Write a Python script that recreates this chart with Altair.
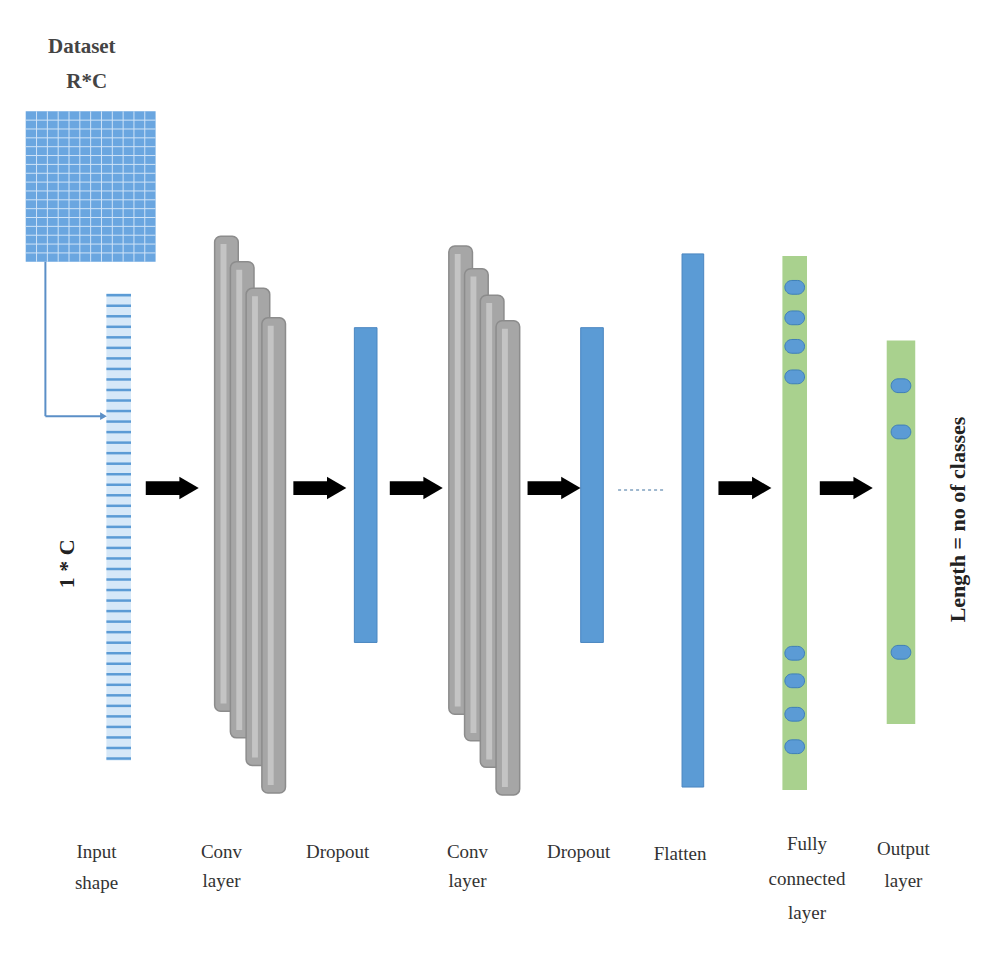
import altair as alt
import pandas as pd

FONT = "Liberation Serif"

# layer blocks: x, x2, y, y2, colour
bar_x = [352, 582, 685]
bar_x2 = [375, 605, 707]
bar_y = [325, 325, 250]
bar_y2 = [645, 645, 792]

conv_x = [210, 226, 242, 258, 448, 464, 480, 496]
conv_y = [232, 258, 285, 315, 242, 265, 292, 318]
conv_y2 = [715, 742, 770, 798, 718, 745, 772, 800]
conv_w = 24

green_x = [787, 893]
green_x2 = [812, 922]
green_y = [252, 338]
green_y2 = [795, 728]

fc_nodes = [284, 315, 344, 375, 656, 684, 718, 751]
out_nodes = [384, 431, 655]

arrow_x = [140, 290, 388, 528, 722, 825]
arrow_y = 488

labels = ["Input", "shape", "Conv", "layer", "Dropout", "Conv", "layer", "Dropout",
          "Flatten", "Fully", "connected", "layer", "Output", "layer"]
label_x = [90, 90, 217, 217, 335, 467, 467, 580, 683, 812, 812, 812, 910, 910]
label_y = [858, 890, 858, 888, 858, 858, 888, 858, 860, 850, 885, 920, 855, 888]

X = alt.Scale(domain=[0, 1000])
Y = alt.Scale(domain=[0, 978], reverse=True)


def enc(**kw):
    out = {}
    for k, v in kw.items():
        if k in ("x", "x2"):
            out[k] = alt.X(v, type="quantitative", scale=X, axis=None) if k == "x" else alt.X2(v)
        elif k in ("y", "y2"):
            out[k] = alt.Y(v, type="quantitative", scale=Y, axis=None) if k == "y" else alt.Y2(v)
        else:
            out[k] = v
    return out


layers = []

# dataset grid
grid = pd.DataFrame({"x": [18], "x2": [150], "y": [105], "y2": [258]})
layers.append(alt.Chart(grid).mark_rect(color="#6aa6e0").encode(**enc(x="x", x2="x2", y="y", y2="y2")))
gx = [18 + i * 132 / 12 for i in range(1, 12)]
gy = [105 + i * 153 / 17 for i in range(1, 17)]
layers.append(alt.Chart(pd.DataFrame({"x": gx, "y": 105, "y2": 258})).mark_rule(
    color="#cfe3f7", strokeWidth=1).encode(**enc(x="x", y="y", y2="y2")))
layers.append(alt.Chart(pd.DataFrame({"y": gy, "x": 18, "x2": 150})).mark_rule(
    color="#cfe3f7", strokeWidth=1).encode(**enc(x="x", x2="x2", y="y")))

# 1*C vector
layers.append(alt.Chart(pd.DataFrame({"x": [100], "x2": [125], "y": [290], "y2": [765]})).mark_rect(
    color="#d6e8f8").encode(**enc(x="x", x2="x2", y="y", y2="y2")))
sy = [292 + i * 471 / 44 for i in range(45)]
layers.append(alt.Chart(pd.DataFrame({"y": sy, "x": 100, "x2": 125})).mark_rule(
    color="#5b9bd5", strokeWidth=2.5).encode(**enc(x="x", x2="x2", y="y")))

# connector
conn = pd.DataFrame({"x": [38, 38], "x2": [38, 96], "y": [258, 415], "y2": [415, 415]})
layers.append(alt.Chart(conn).mark_rule(color="#5b8fc7", strokeWidth=2).encode(
    **enc(x="x", x2="x2", y="y", y2="y2")))
layers.append(alt.Chart(pd.DataFrame({"x": [97], "y": [415]})).mark_point(
    shape="triangle-right", filled=True, size=60, color="#5b8fc7", opacity=1).encode(**enc(x="x", y="y")))

# conv stacks
conv = pd.DataFrame({"x": conv_x, "x2": [v + conv_w for v in conv_x], "y": conv_y, "y2": conv_y2,
                     "o": list(range(8))})
layers.append(alt.Chart(conv).mark_rect(color="#a6a6a6", stroke="#8c8c8c", strokeWidth=1.5,
                                        cornerRadius=6).encode(**enc(x="x", x2="x2", y="y", y2="y2"), order="o:Q"))
hl = conv.assign(x=conv["x"] + 6, x2=conv["x"] + 12, y=conv["y"] + 8, y2=conv["y2"] - 8)
layers.append(alt.Chart(hl).mark_rect(color="#c4c4c4").encode(**enc(x="x", x2="x2", y="y", y2="y2")))

# blue bars
bars = pd.DataFrame({"x": bar_x, "x2": bar_x2, "y": bar_y, "y2": bar_y2})
layers.append(alt.Chart(bars).mark_rect(color="#5b9bd5", stroke="#4a86c0").encode(
    **enc(x="x", x2="x2", y="y", y2="y2")))

# green bars
greens = pd.DataFrame({"x": green_x, "x2": green_x2, "y": green_y, "y2": green_y2})
layers.append(alt.Chart(greens).mark_rect(color="#a9d18e").encode(**enc(x="x", x2="x2", y="y", y2="y2")))

# oval nodes
cx = [799.5] * len(fc_nodes) + [907.5] * len(out_nodes)
cy = fc_nodes + out_nodes
nodes = pd.DataFrame({"x": [v - 10 for v in cx], "x2": [v + 10 for v in cx],
                      "y": [v - 7 for v in cy], "y2": [v + 7 for v in cy]})
layers.append(alt.Chart(nodes).mark_rect(color="#5b9bd5", cornerRadius=7, stroke="#3e7fb8",
                                         strokeWidth=1).encode(**enc(x="x", x2="x2", y="y", y2="y2")))

# arrows
arr = pd.DataFrame({"x": arrow_x, "x2": [v + 38 for v in arrow_x], "y": arrow_y - 7, "y2": arrow_y + 7,
                    "h": [v + 44 for v in arrow_x], "hy": arrow_y})
layers.append(alt.Chart(arr).mark_rect(color="black").encode(**enc(x="x", x2="x2", y="y", y2="y2")))
layers.append(alt.Chart(arr).mark_point(shape="triangle-right", filled=True, size=500, color="black",
                                        opacity=1).encode(**enc(x="h", y="hy")))

# dotted line
layers.append(alt.Chart(pd.DataFrame({"x": [620], "x2": [668], "y": [490]})).mark_rule(
    color="#9fb8cf", strokeWidth=2, strokeDash=[3, 3]).encode(**enc(x="x", x2="x2", y="y")))

# texts
txt = pd.DataFrame({"t": labels, "x": label_x, "y": label_y})
layers.append(alt.Chart(txt).mark_text(font=FONT, fontSize=19, color="#333333").encode(
    **enc(x="x", y="y"), text="t:N"))
top = pd.DataFrame({"t": ["Dataset", "R*C"], "x": [75, 80], "y": [40, 75]})
layers.append(alt.Chart(top).mark_text(font=FONT, fontSize=21, fontWeight="bold", color="#444444").encode(
    **enc(x="x", y="y"), text="t:N"))
rot = pd.DataFrame({"t": ["1 * C", "Length = no of classes"], "x": [60, 965], "y": [565, 520]})
layers.append(alt.Chart(rot).mark_text(font=FONT, fontSize=22, fontWeight="bold", angle=270,
                                       color="#222222").encode(**enc(x="x", y="y"), text="t:N"))

chart = alt.layer(*layers).properties(
    width=984, height=962, padding=0,
    autosize=alt.AutoSizeParams(type="fit", contains="padding"),
    background="white",
).configure_view(strokeWidth=0)

chart.save("out.html", embed_options={"renderer": "svg", "actions": False})
